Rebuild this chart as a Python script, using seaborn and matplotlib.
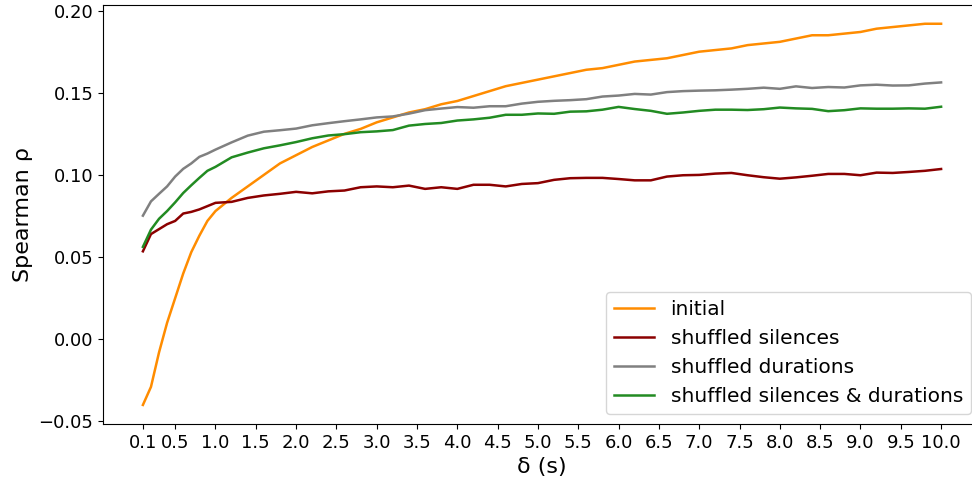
import numpy as np
import pandas as pd
import seaborn as sns
import matplotlib
matplotlib.use('Agg')
import matplotlib.pyplot as plt

# delta values (s)
delta = [0.1, 0.2, 0.3, 0.4, 0.5, 0.6, 0.7, 0.8, 0.9, 1.0,
         1.2, 1.4, 1.6, 1.8, 2.0, 2.2, 2.4, 2.6, 2.8, 3.0,
         3.2, 3.4, 3.6, 3.8, 4.0, 4.2, 4.4, 4.6, 4.8, 5.0,
         5.2, 5.4, 5.6, 5.8, 6.0, 6.2, 6.4, 6.6, 6.8, 7.0,
         7.2, 7.4, 7.6, 7.8, 8.0, 8.2, 8.4, 8.6, 8.8, 9.0,
         9.2, 9.4, 9.6, 9.8, 10.0]

initial = [-0.040, -0.029, -0.008, 0.010, 0.025, 0.040, 0.053, 0.063, 0.072, 0.078,
           0.086, 0.093, 0.100, 0.107, 0.112, 0.117, 0.121, 0.125, 0.128, 0.132,
           0.135, 0.138, 0.140, 0.143, 0.145, 0.148, 0.151, 0.154, 0.156, 0.158,
           0.160, 0.162, 0.164, 0.165, 0.167, 0.169, 0.170, 0.171, 0.173, 0.175,
           0.176, 0.177, 0.179, 0.180, 0.181, 0.183, 0.185, 0.185, 0.186, 0.187,
           0.189, 0.190, 0.191, 0.192, 0.192]

shuf_silences = [0.0535, 0.064, 0.067, 0.070, 0.072, 0.0765, 0.0775, 0.079, 0.081, 0.083,
                 0.0836, 0.086, 0.0875, 0.0885, 0.0897, 0.0888, 0.090, 0.0905, 0.0925, 0.093,
                 0.0925, 0.0935, 0.0915, 0.0925, 0.0915, 0.094, 0.094, 0.093, 0.0945, 0.095,
                 0.097, 0.098, 0.0982, 0.0982, 0.0975, 0.0967, 0.0967, 0.099, 0.0998, 0.100,
                 0.1008, 0.1012, 0.0998, 0.0986, 0.0977, 0.0985, 0.0995, 0.1006, 0.1006, 0.0998,
                 0.1014, 0.1012, 0.1018, 0.1025, 0.1036]

shuf_durations = [0.0752, 0.0839, 0.0885, 0.093, 0.099, 0.1037, 0.107, 0.111, 0.113, 0.1154,
                  0.1198, 0.1239, 0.1263, 0.1272, 0.1282, 0.1302, 0.1315, 0.1327, 0.1338, 0.135,
                  0.1356, 0.1373, 0.1394, 0.1404, 0.1413, 0.1409, 0.1418, 0.1418, 0.1434, 0.1445,
                  0.1451, 0.1455, 0.1461, 0.1477, 0.1483, 0.1493, 0.1489, 0.1504, 0.1510, 0.1513,
                  0.1515, 0.1519, 0.1524, 0.1531, 0.1524, 0.1539, 0.1529, 0.1535, 0.1532, 0.1545,
                  0.1549, 0.1544, 0.1545, 0.1556, 0.1563]

shuf_both = [0.0562, 0.0667, 0.0733, 0.078, 0.0833, 0.089, 0.0937, 0.0982, 0.1025, 0.1049,
             0.1107, 0.1136, 0.1162, 0.118, 0.120, 0.1223, 0.1240, 0.1248, 0.1260, 0.1265,
             0.1273, 0.1300, 0.1310, 0.1316, 0.1331, 0.1338, 0.1348, 0.1366, 0.1366, 0.1374,
             0.1372, 0.1385, 0.1387, 0.1397, 0.1414, 0.1401, 0.1390, 0.1372, 0.1380, 0.1390,
             0.1397, 0.1397, 0.1395, 0.1400, 0.1410, 0.1405, 0.1402, 0.1388, 0.1394, 0.1405,
             0.1403, 0.1403, 0.1405, 0.1403, 0.1415]

labels = ['initial', 'shuffled silences', 'shuffled durations', 'shuffled silences & durations']
colors = ['darkorange', 'darkred', 'gray', 'forestgreen']

xticks = [0.1, 0.5, 1.0, 1.5, 2.0, 2.5, 3.0, 3.5, 4.0, 4.5, 5.0,
          5.5, 6.0, 6.5, 7.0, 7.5, 8.0, 8.5, 9.0, 9.5, 10.0]

# long format for seaborn
frames = []
for lab, vals in zip(labels, [initial, shuf_silences, shuf_durations, shuf_both]):
    frames.append(pd.DataFrame({'delta': delta, 'rho': vals, 'kind': lab}))
df = pd.concat(frames).reset_index(drop=True)

fig = plt.figure(figsize=(9.72, 4.84), dpi=100)
# axes run a bit past the right edge like in the original crop
ax = fig.add_axes([103 / 972, 60 / 484, 878 / 972, 419.3 / 484])

sns.lineplot(data=df, x='delta', y='rho', hue='kind', hue_order=labels,
             palette=dict(zip(labels, colors)), linewidth=1.8, ax=ax)

ax.set_xticks(xticks)
ax.set_xticklabels([f'{t:.1f}' for t in xticks])
ax.tick_params(axis='both', labelsize=13)
ax.set_yticks([-0.05, 0.0, 0.05, 0.10, 0.15, 0.20])
ax.set_xlabel('δ (s)', fontsize=16)
ax.set_ylabel('Spearman ρ', fontsize=16)
ax.legend(loc='lower right', fontsize=14.5)

fig.savefig('out.png', dpi=100)
